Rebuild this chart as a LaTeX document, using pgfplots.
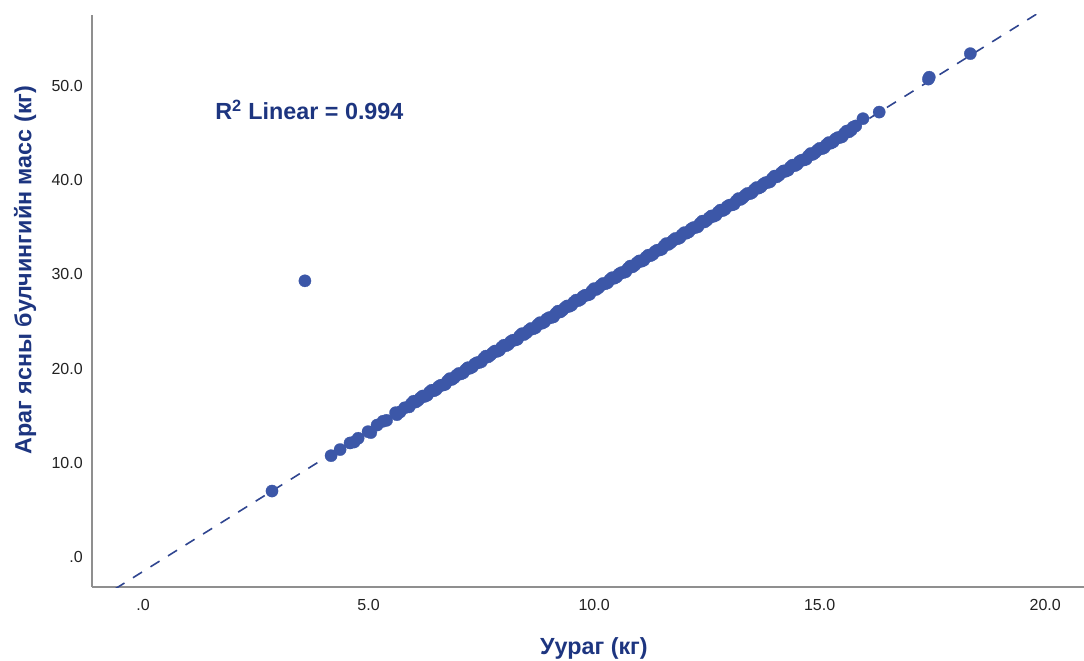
\documentclass[border=0pt]{standalone}
\usepackage{pgfplots}
\pgfplotsset{compat=1.18}
\usepackage{pgfplotstable}
\usepackage{fontspec}
\setmainfont{Liberation Sans}

\definecolor{dotblue}{HTML}{3C57A8}
\definecolor{fitblue}{HTML}{2F4590}
\definecolor{navy}{HTML}{1D3580}
\definecolor{axisgray}{HTML}{8F8F8F}
\definecolor{ticktext}{HTML}{222222}

% Uurag (kg) vs. arag yasny bulchingiin mass (kg)
\pgfplotstableread{
x y
2.86 7.0
3.59 29.3
4.17 10.75
4.37 11.4
4.59 12.1
4.68 12.2
4.77 12.6
4.99 13.3
5.05 13.2
5.19 14.0
5.32 14.4
5.40 14.5
5.63 15.1
5.6 15.31
5.7 15.39
5.8 15.83
5.9 15.93
6.0 16.53
6.1 16.63
6.2 17.08
6.3 17.16
6.4 17.69
6.5 17.77
6.6 18.22
6.7 18.32
6.8 18.92
6.9 19.02
7.0 19.47
7.1 19.54
7.2 20.08
7.3 20.16
7.4 20.61
7.5 20.71
7.6 21.31
7.7 21.41
7.8 21.85
7.9 21.93
8.0 22.47
8.1 22.55
8.2 23.00
8.3 23.10
8.4 23.69
8.5 23.79
8.6 24.24
8.7 24.32
8.8 24.86
8.9 24.94
9.0 25.39
9.1 25.48
9.2 26.08
9.3 26.18
9.4 26.63
9.5 26.71
9.6 27.25
9.7 27.33
9.8 27.77
9.9 27.87
10.0 28.47
10.1 28.57
10.2 29.02
10.3 29.10
10.4 29.63
10.5 29.71
10.6 30.16
10.7 30.26
10.8 30.86
10.9 30.96
11.0 31.41
11.1 31.48
11.2 32.02
11.3 32.10
11.4 32.55
11.5 32.65
11.6 33.25
11.7 33.35
11.8 33.79
11.9 33.87
12.0 34.41
12.1 34.49
12.2 34.94
12.3 35.04
12.4 35.63
12.5 35.73
12.6 36.18
12.7 36.26
12.8 36.80
12.9 36.88
13.0 37.33
13.1 37.42
13.2 38.02
13.3 38.12
13.4 38.57
13.5 38.65
13.6 39.19
13.7 39.27
13.8 39.71
13.9 39.81
14.0 40.41
14.1 40.51
14.2 40.96
14.3 41.04
14.4 41.57
14.5 41.65
14.6 42.10
14.7 42.20
14.8 42.80
14.9 42.90
15.0 43.35
15.1 43.42
15.2 43.96
15.3 44.04
15.4 44.49
15.5 44.59
15.6 45.19
15.7 45.29
15.74 45.6
15.8 45.73
15.96 46.5
16.32 47.2
17.41 50.7
17.43 50.9
18.34 53.4
5.95 16.28
6.05 16.45
6.15 16.88
6.25 17.05
6.35 17.48
6.45 17.64
6.55 18.07
6.65 18.24
6.75 18.67
6.85 18.84
6.95 19.27
7.05 19.43
7.15 19.86
7.25 20.03
7.35 20.46
7.45 20.63
7.55 21.06
7.65 21.23
7.75 21.65
7.85 21.82
7.95 22.25
8.05 22.42
8.15 22.85
8.25 23.02
8.35 23.45
8.45 23.61
8.55 24.04
8.65 24.21
8.75 24.64
8.85 24.81
8.95 25.24
9.05 25.41
9.15 25.83
9.25 26.00
9.35 26.43
9.45 26.60
9.55 27.03
9.65 27.20
9.75 27.62
9.85 27.79
9.95 28.22
10.05 28.39
10.15 28.82
10.25 28.99
10.35 29.42
10.45 29.58
10.55 30.01
10.65 30.18
10.75 30.61
10.85 30.78
10.95 31.21
11.05 31.38
11.15 31.80
11.25 31.97
11.35 32.40
11.45 32.57
11.55 33.00
11.65 33.17
11.75 33.59
11.85 33.76
11.95 34.19
12.05 34.36
12.15 34.79
12.25 34.96
12.35 35.39
12.45 35.55
12.55 35.98
12.65 36.15
12.75 36.58
12.85 36.75
12.95 37.18
13.05 37.35
13.15 37.77
13.25 37.94
13.35 38.37
13.45 38.54
13.55 38.97
13.65 39.14
13.75 39.56
13.85 39.73
13.95 40.16
14.05 40.33
14.15 40.76
14.25 40.93
14.35 41.36
14.45 41.52
14.55 41.95
14.65 42.12
14.75 42.55
14.85 42.72
14.95 43.15
15.05 43.32
15.15 43.74
15.25 43.91
15.35 44.34
15.45 44.51
15.55 44.94
15.65 45.11
}\massdata

% fitted line, R^2 = 0.994
\pgfplotstableread{
x y
-1.0 -4.52
20.5 59.66
}\fitline

\begin{document}
\begin{tikzpicture}
\begin{axis}[
  name=ax,
  scale only axis,
  width=744pt, height=429pt,
  xmin=-1.13, xmax=20.86,
  ymin=-3.18, ymax=57.5,
  axis lines*=left,
  axis line style={draw=axisgray, line width=1.4pt, -},
  major tick length=0pt,
  xtick={0,5,10,15,20},
  xticklabels={.0,5.0,10.0,15.0,20.0},
  ytick={0,10,20,30,40,50},
  yticklabels={.0,10.0,20.0,30.0,40.0,50.0},
  tick label style={font=\fontsize{12}{14}\selectfont, text=ticktext},
  xticklabel style={anchor=center, inner sep=0pt, yshift=-13.5pt},
  yticklabel style={anchor=east, inner sep=0pt, xshift=-6.75pt},
  xlabel={Уураг (кг)},
  ylabel={Араг ясны булчингийн масс (кг)},
  label style={font=\bfseries\fontsize{17.5}{21}\selectfont, text=navy},
  xlabel style={at={(axis description cs:0.506,-0.1066)}, anchor=center},
  ylabel style={at={(axis description cs:-0.0675,0.554)}, anchor=center},
  clip=true,
]
\addplot[only marks, mark=*, mark size=4.6pt, color=dotblue,
  mark options={solid, fill=dotblue, draw=dotblue, line width=0.2pt}]
  table[x=x, y=y] {\massdata};
\addplot[draw=fitblue, line width=1.2pt, dash pattern=on 8pt off 7.5pt]
  table[x=x, y=y] {\fitline};
\node[anchor=west, text=navy, font=\bfseries\fontsize{17.5}{20}\selectfont]
  at (axis cs:1.5,47.45) {R\textsuperscript{2} Linear = 0.994};
\end{axis}
\pgfresetboundingbox
\path (ax.south west) ++(-69pt,-54.75pt) coordinate (bbl);
\path (ax.north east) ++(0pt,11.25pt) coordinate (btr);
\path[use as bounding box] (bbl) rectangle (btr);
\end{tikzpicture}
\end{document}
